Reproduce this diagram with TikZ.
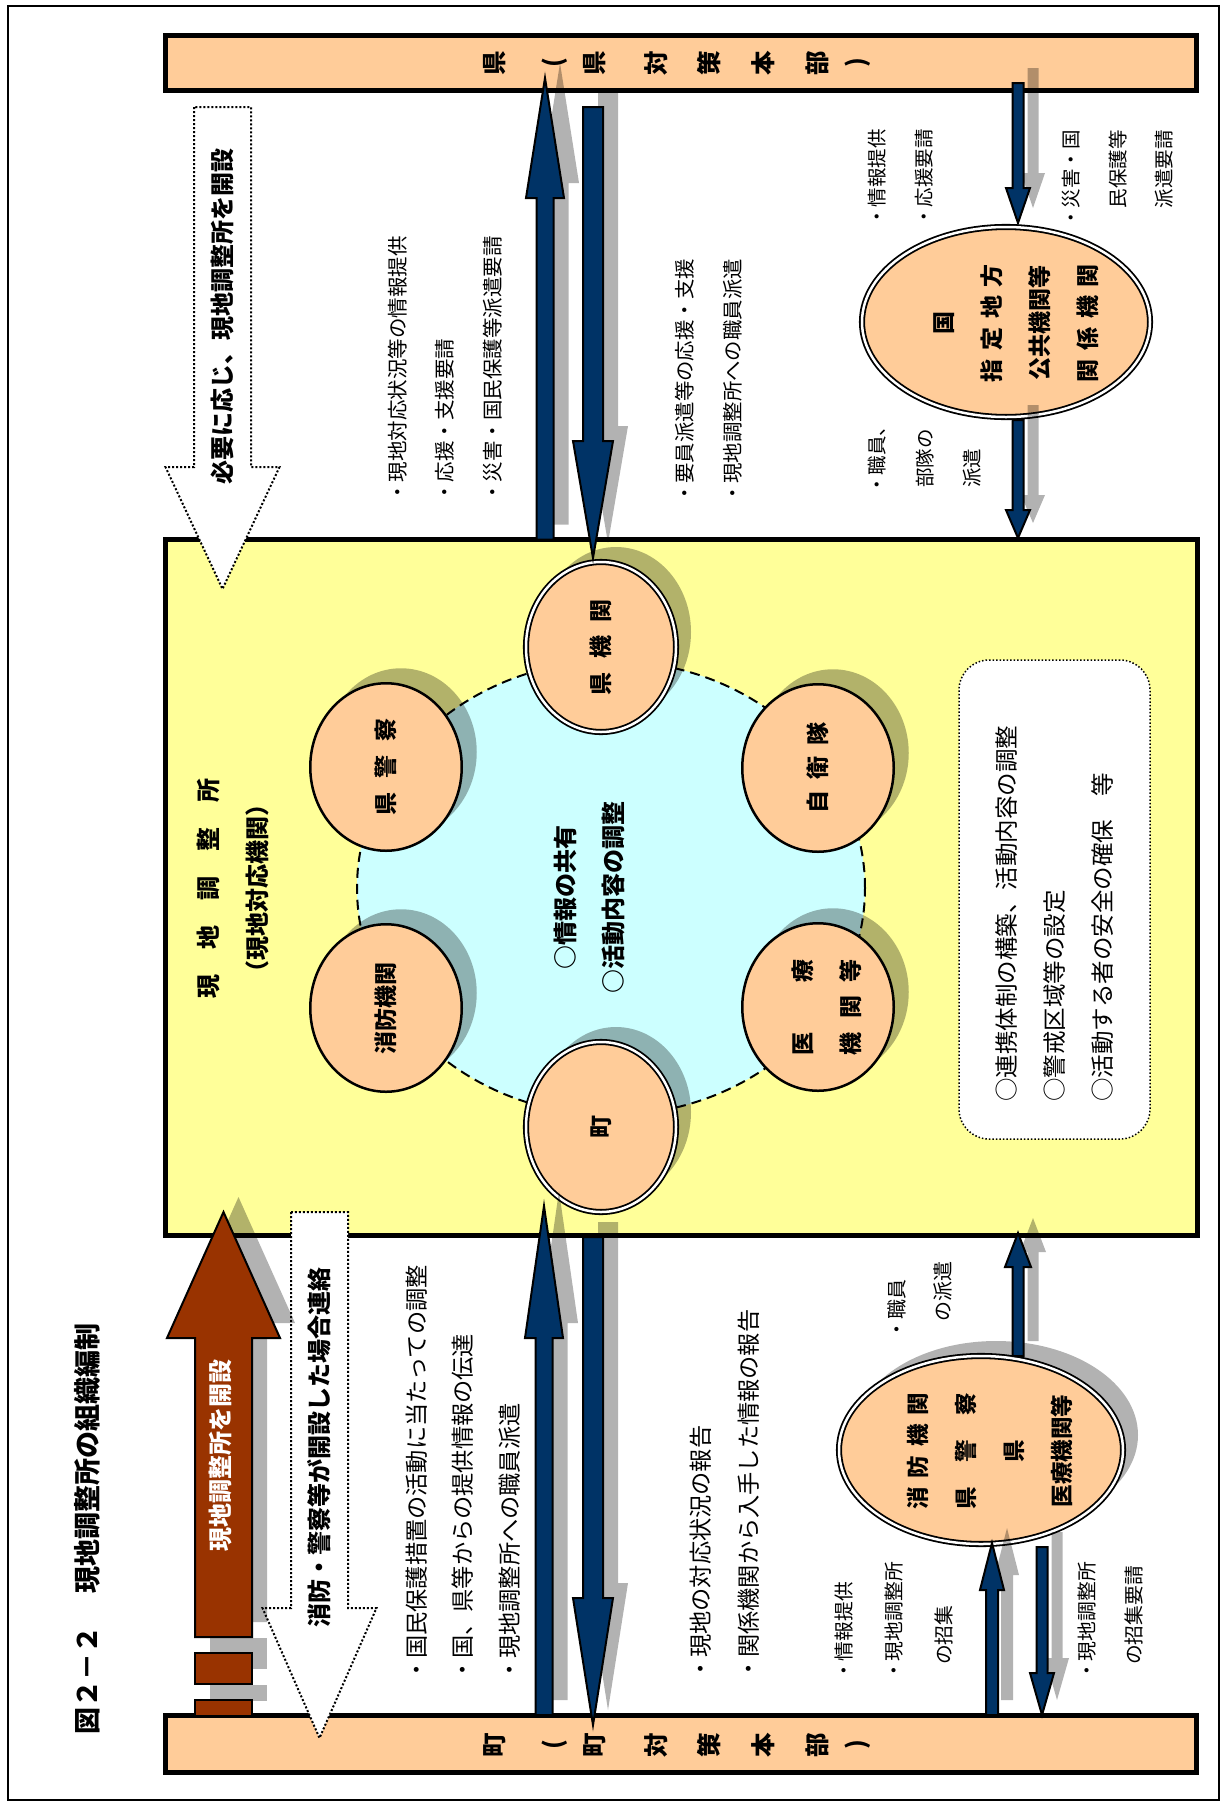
\documentclass[tikz,border=0pt]{standalone}
\usepackage{fontspec}
\setmainfont{Noto Sans CJK JP}
\usepackage{tikz}
\usetikzlibrary{positioning,shapes,shadows}

\definecolor{peach}{HTML}{FFCC99}
\definecolor{lemon}{HTML}{FFFF99}
\definecolor{skyc}{HTML}{CCFFFF}
\definecolor{navy}{HTML}{003366}
\definecolor{rust}{HTML}{993300}

\newcommand{\jfont}[2]{\fontsize{#1}{#2}\selectfont}
\newcommand{\spreadtxt}[2]{\makebox[#1][s]{#2}}
% vertical block arrow: x, y start, y head base, y tip, half shaft, half head
\newcommand{\varrow}[7][]{\filldraw[#1] (#2-#6,#3) -- (#2-#6,#4) -- (#2-#7,#4) -- (#2,#5) -- (#2+#7,#4) -- (#2+#6,#4) -- (#2+#6,#3) -- cycle;}

\tikzset{
  shade/.style={drop shadow={shadow xshift=15pt,shadow yshift=15pt,opacity=.3,fill=black}},
  bar/.style={draw, line width=5pt, fill=peach},
  bartxt/.style={rotate=90, font=\jfont{24.5}{24.5}\bfseries},
  station/.style={draw, line width=5pt, fill=lemon},
  orgcirc/.style={ellipse, draw, line width=2.5pt, fill=peach, shade},
  dblcirc/.style={ellipse, draw, fill=peach, line width=1.8pt, double=white, double distance=2.5pt},
  orgtxt/.style={rotate=90, align=center, font=\jfont{23}{48}\bfseries},
  note/.style={rotate=90, anchor=west, align=left},
  navyarrow/.style={fill=navy, draw=black, line width=2pt, shade},
  openarrow/.style={fill=white, draw=black, dotted, line width=2pt},
  rustarrow/.style={fill=rust, draw=black, line width=2pt, shade}
}

\begin{document}
\begin{tikzpicture}[x=1pt,y=-1pt]
\tikzstyle{every node}+=[inner sep=0pt]
\useasboundingbox (0,0) rectangle (1223,1805);
\draw [line width=2pt] (8,6) rectangle (1219,1800);
\node [rotate=90, anchor=west, font=\jfont{27}{27}\bfseries] (title) at (87,1735) {図２－２\hspace{1.25em}現地調整所の組織編制};

% bars and the station
\node [bar, minimum width=1031, minimum height=55.5] (kenbar) at (681,63) {};
\node [bar, minimum width=1031, minimum height=57] (machibar) at (681,1744) {};
\foreach \c/\x in {県/495,{(}/555,県/595,対/656,策/709,本/763,部/817,{)}/858}
  \node [bartxt] (ken-\x) at (\x,63) {\c};
\foreach \c/\x in {町/495,{(}/555,町/595,対/656,策/709,本/763,部/817,{)}/858}
  \node [bartxt] (machi-\x) at (\x,1745) {\c};
\node [station, minimum width=1032, minimum height=696] (station) at (681.5,887.5) {};
\node [orgtxt, font=\jfont{24}{49}\bfseries] (stationtxt) at (233,888) {\spreadtxt{220pt}{現\hfil 地\hfil 調\hfil 整\hfil 所}\\（現地対応機関）};

% round table
\node [ellipse, draw, dash pattern=on 10pt off 6pt, line width=2pt, fill=skyc, minimum width=508, minimum height=454] (kyoyu) at (611,888) {};
\node [orgtxt, font=\jfont{24}{48}\bfseries] (kyoyutxt) at (589,897) {○情報の共有\\○活動内容の調整};
\node [orgcirc, minimum width=151.5, minimum height=167.5] (kenkei) at (386,767) {};
\node [orgcirc, minimum width=151.5, minimum height=167.5] (shobo) at (386,1008) {};
\node [orgcirc, minimum width=151.5, minimum height=167.5] (jieitai) at (818,768) {};
\node [orgcirc, minimum width=151.5, minimum height=167.5] (iryo) at (818,1007) {};
\node [dblcirc, shade, minimum width=150, minimum height=170] (kenkikan) at (601,647) {};
\node [dblcirc, shade, minimum width=150, minimum height=170] (machi) at (601,1127) {};
\node [orgtxt] at (kenkei) {\spreadtxt{97pt}{県\hfil 警\hfil 察}};
\node [orgtxt] at (shobo) {消防機関};
\node [orgtxt] at (jieitai) {\spreadtxt{91pt}{自\hfil 衛\hfil 隊}};
\node [orgtxt] at (827,1007) {\spreadtxt{96pt}{医\hfil 療}\\\spreadtxt{96pt}{機\hfil 関\hfil 等}};
\node [orgtxt] at (kenkikan) {\spreadtxt{96pt}{県\hfil 機\hfil 関}};
\node [orgtxt] at (machi) {町};

% memo box
\node [draw, dotted, line width=1.5pt, rounded corners=30pt, fill=white, minimum width=191, minimum height=479] (memo) at (1054.5,899.5) {};
\node [note, font=\jfont{23.5}{48}] (memotxt) at (1055,1102) {○連携体制の構築、活動内容の調整\\○警戒区域等の設定\\○活動する者の安全の確保\hspace{1em}等};

% national and related bodies
\node [dblcirc, minimum width=288, minimum height=190] (kuni) at (1006,322) {};
\node [orgtxt] (kunitxt) at (1016,323) {国\\\spreadtxt{118pt}{指\hfil 定\hfil 地\hfil 方}\\公共機関等\\\spreadtxt{118pt}{関\hfil 係\hfil 機\hfil 関}};
\node [dblcirc, shade, minimum width=284, minimum height=188] (kikan) at (981,1450) {};
\node [orgtxt, font=\jfont{22.5}{48}\bfseries] (kikantxt) at (990,1451) {\spreadtxt{117pt}{消\hfil 防\hfil 機\hfil 関}\\\spreadtxt{117pt}{県\hfil 警\hfil 察}\\県\\医療機関等};

% arrows
\varrow[navyarrow]{545}{539.5}{198}{78}{8.5}{19}
\varrow[navyarrow]{593}{107}{441}{558}{10}{20}
\varrow[navyarrow]{544}{1715}{1338}{1206}{8.5}{19}
\varrow[navyarrow]{593}{1237}{1598}{1725}{10}{20}
\varrow[navyarrow]{1018}{83}{188}{223}{5.5}{12}
\varrow[navyarrow]{1018}{420}{510}{538}{5.5}{12}
\varrow[navyarrow]{1018}{1356}{1267}{1233}{5.5}{13}
\varrow[navyarrow]{992}{1715}{1590}{1543}{6}{12}
\varrow[navyarrow]{1042}{1547}{1673}{1715}{5.5}{12}
\varrow[openarrow]{222.5}{107}{467}{589}{28.5}{57}
\varrow[openarrow]{319.5}{1212}{1608}{1738}{28.5}{57}
\varrow[rustarrow]{223.5}{1637}{1338}{1212}{28.5}{56.5}
\filldraw [rustarrow] (195,1653) rectangle (252,1684);
\filldraw [rustarrow] (195,1700) rectangle (252,1715.5);
\node [rotate=90, anchor=west, font=\jfont{24}{24}\bfseries] (hitsuyo) at (222,485) {必要に応じ、現地調整所を開設};
\node [rotate=90, anchor=west, font=\jfont{24}{24}\bfseries] (renraku) at (319,1628) {消防・警察等が開設した場合連絡};
\node [rotate=90, anchor=west, font=\jfont{24}{24}\bfseries, text=white] (kaisetsu) at (220,1552) {現地調整所を開設};

% flow notes
\node [note, font=\jfont{20.5}{47.5}] (upleft) at (445,503) {・現地対応状況等の情報提供\\・応援・支援要請\\・災害・国民保護等派遣要請};
\node [note, font=\jfont{20.4}{48}] (downleft) at (709,504) {・要員派遣等の応援・支援\\・現地調整所への職員派遣};
\node [note, font=\jfont{19.5}{47}] (tokuni) at (901,227) {・情報提供\\・応援要請};
\node [note, anchor=east, align=right, font=\jfont{19.5}{46.5}] (haken) at (1118,130) {・災害・国\\民保護等\\派遣要請};
\node [note, font=\jfont{19.5}{47.5}] (butai) at (925,495) {・職員、\\\hspace*{.35em}部隊の\\\hspace*{.35em}派遣};
\node [note, font=\jfont{23.2}{46.5}] (upmachi) at (463,1682) {・国民保護措置の活動に当たっての調整\\・国、県等からの提供情報の伝達\\・現地調整所への職員派遣};
\node [note, font=\jfont{23.2}{47.5}] (tomachi) at (725,1681) {・現地の対応状況の報告\\・関係機関から入手した情報の報告};
\node [note, font=\jfont{20}{46}] (shokuin) at (920,1340) {・職員\\\hspace*{.9em}の派遣};
\node [note, font=\jfont{19.8}{50}] (shoshu) at (894,1681) {・情報提供\\・現地調整所\\\hspace*{.8em}の招集};
\node [note, font=\jfont{19.8}{47}] (yosei) at (1110,1681) {・現地調整所\\\hspace*{.8em}の招集要請};
\end{tikzpicture}
\end{document}
